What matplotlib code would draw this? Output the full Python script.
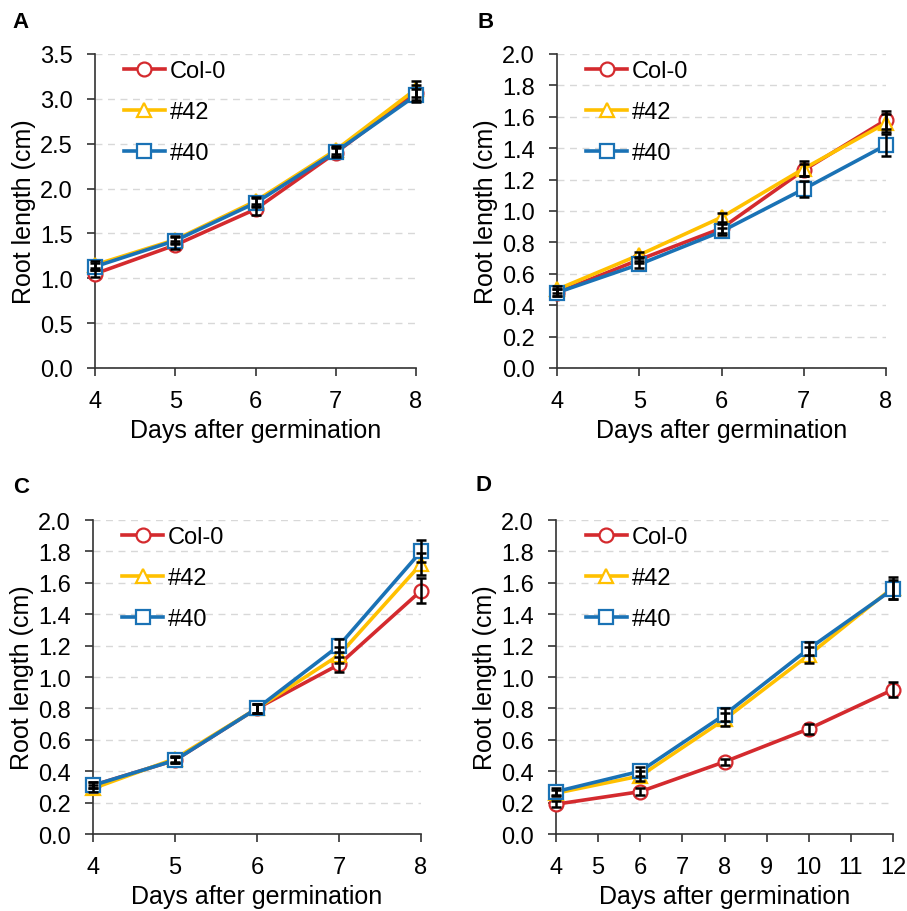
import matplotlib.pyplot as plt
import numpy as np

plt.rcParams['font.family'] = ['Liberation Sans', 'DejaVu Sans']

# Data (root length, cm)
days_abc = [4, 5, 6, 7, 8]
days_d = [4, 6, 8, 10, 12]

a_col0 = [1.05, 1.37, 1.77, 2.40, 3.07]
a_42 = [1.15, 1.43, 1.86, 2.43, 3.11]
a_40 = [1.13, 1.42, 1.84, 2.41, 3.04]
a_col0_err = [0.04, 0.04, 0.06, 0.05, 0.08]
a_42_err = [0.04, 0.04, 0.05, 0.05, 0.09]
a_40_err = [0.04, 0.04, 0.05, 0.05, 0.07]

b_col0 = [0.48, 0.69, 0.89, 1.26, 1.58]
b_42 = [0.50, 0.72, 0.96, 1.27, 1.56]
b_40 = [0.48, 0.66, 0.87, 1.14, 1.42]
b_col0_err = [0.02, 0.02, 0.03, 0.04, 0.06]
b_42_err = [0.02, 0.02, 0.03, 0.05, 0.06]
b_40_err = [0.02, 0.02, 0.02, 0.05, 0.07]

c_col0 = [0.31, 0.47, 0.80, 1.08, 1.55]
c_42 = [0.29, 0.48, 0.80, 1.14, 1.72]
c_40 = [0.31, 0.47, 0.80, 1.20, 1.80]
c_col0_err = [0.02, 0.02, 0.03, 0.05, 0.08]
c_42_err = [0.02, 0.02, 0.03, 0.05, 0.07]
c_40_err = [0.02, 0.02, 0.03, 0.04, 0.07]

d_col0 = [0.19, 0.27, 0.46, 0.67, 0.92]
d_42 = [0.26, 0.37, 0.73, 1.14, 1.57]
d_40 = [0.27, 0.40, 0.76, 1.18, 1.56]
d_col0_err = [0.02, 0.02, 0.02, 0.03, 0.05]
d_42_err = [0.02, 0.03, 0.04, 0.05, 0.07]
d_40_err = [0.02, 0.03, 0.04, 0.04, 0.06]

labels = ['Col-0', '#42', '#40']
colors = ['#D42A2E', '#FFC000', '#1A72B5']
markers = ['o', '^', 's']

panels = [
    ('A', days_abc, [a_col0, a_42, a_40], [a_col0_err, a_42_err, a_40_err],
     3.5, 0.5, [0.1047, 0.5954, 0.3540, 0.3443]),
    ('B', days_abc, [b_col0, b_42, b_40], [b_col0_err, b_42_err, b_40_err],
     2.0, 0.2, [0.6141, 0.5954, 0.3628, 0.3443]),
    ('C', days_abc, [c_col0, c_42, c_40], [c_col0_err, c_42_err, c_40_err],
     2.0, 0.2, [0.1025, 0.0844, 0.3617, 0.3443]),
    ('D', days_d, [d_col0, d_42, d_40], [d_col0_err, d_42_err, d_40_err],
     2.0, 0.2, [0.6130, 0.0844, 0.3716, 0.3443]),
]
letter_pos = {'A': (0.014, 0.987), 'B': (0.527, 0.987), 'C': (0.014, 0.477), 'D': (0.524, 0.479)}

fig = plt.figure(figsize=(9.07, 9.12), dpi=100)

for name, x, ys, errs, ymax, ystep, rect in panels:
    ax = fig.add_axes(rect)
    for y, e, lab, c, m in zip(ys, errs, labels, colors, markers):
        ax.plot(x, y, color=c, lw=2.6, marker=m, ms=10, mfc='white', mec=c,
                mew=1.6, label=lab, clip_on=False, zorder=3)
        ax.errorbar(x, y, yerr=e, fmt='none', ecolor='black', elinewidth=1.8,
                    capsize=3.5, capthick=1.8, clip_on=False, zorder=4)
    ax.set_xlim(x[0], x[-1])
    ax.set_ylim(0, ymax)
    yt = np.arange(0, ymax + 1e-9, ystep)
    ax.set_yticks(yt)
    ax.set_yticklabels(['%.1f' % v for v in yt])
    if name == 'D':
        ax.set_xticks(range(4, 13))
    else:
        ax.set_xticks(x)
    ax.yaxis.grid(True, color='#D8D8D8', ls=(0, (5, 4)), lw=1)
    ax.set_axisbelow(True)
    for s in ['top', 'right']:
        ax.spines[s].set_visible(False)
    for s in ['left', 'bottom']:
        ax.spines[s].set_color('#333333')
        ax.spines[s].set_linewidth(1.2)
    ax.tick_params(direction='out', length=6, width=1.2, color='#333333',
                   labelsize=17)
    ax.tick_params(axis='x', pad=10)
    ax.tick_params(axis='y', pad=10)
    ax.set_xlabel('Days after germination', fontsize=18, labelpad=4)
    ax.set_ylabel('Root length (cm)', fontsize=18, labelpad=3)
    ax.legend(loc='upper left', bbox_to_anchor=(0.06, 1.01), frameon=False,
              fontsize=17, handlelength=1.75, handletextpad=0.2,
              labelspacing=0.8, borderaxespad=0.0)
    lx, ly = letter_pos[name]
    fig.text(lx, ly, name, fontsize=16, fontweight='bold', va='top', ha='left')

fig.savefig('out.png', dpi=100)
